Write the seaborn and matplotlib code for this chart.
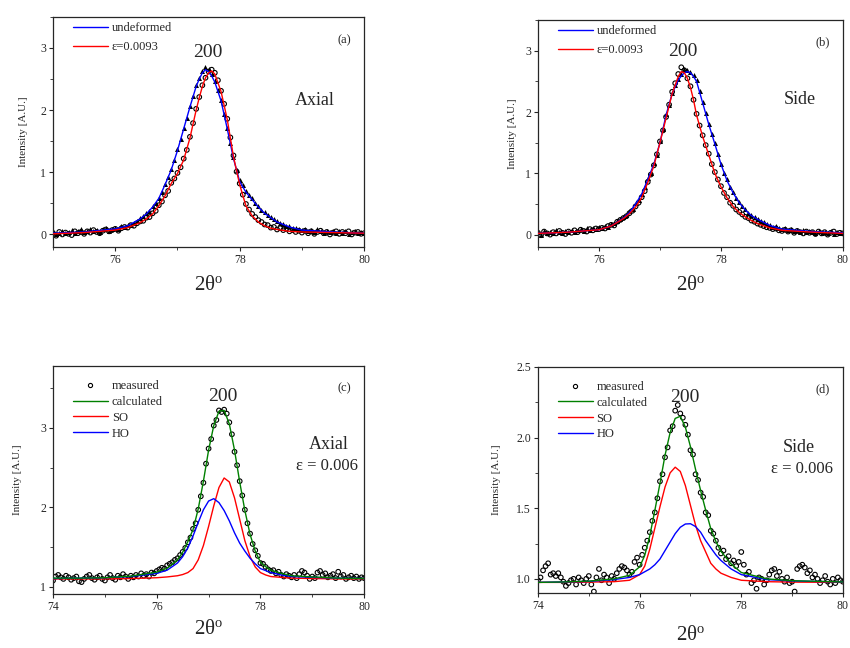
"""Perfis de difracao do pico 200: comparacao axial / lateral (4 paineis)."""
import matplotlib
matplotlib.use("Agg")
import matplotlib.pyplot as plt
from matplotlib.lines import Line2D
from matplotlib.ticker import MultipleLocator, FormatStrFormatter
import seaborn as sns
import numpy as np

# ---------------- dados ----------------
# paineis (a) e (b): passo de 0.05 grau entre 75 e 80
TWO_THETA_TOP = np.round(np.arange(75.0, 80.0001, 0.05), 2)
# paineis (c) e (d): passo de 0.05 grau entre 74 e 80
TWO_THETA_BOT = np.round(np.arange(74.0, 80.0001, 0.05), 2)

a_undeformed = [
    0.05, 0.01, 0.03, 0.06, 0.02, 0.04, 0.07, 0.03, 0.05, 0.08,
    0.04, 0.06, 0.09, 0.05, 0.07, 0.04, 0.08, 0.10, 0.06, 0.09,
    0.11, 0.08, 0.13, 0.12, 0.16, 0.15, 0.19, 0.22, 0.26, 0.29,
    0.34, 0.38, 0.45, 0.50, 0.59, 0.68, 0.81, 0.92, 1.05, 1.19,
    1.37, 1.53, 1.72, 1.88, 2.07, 2.22, 2.40, 2.52, 2.63, 2.70,
    2.66, 2.58, 2.47, 2.33, 2.16, 1.94, 1.72, 1.47, 1.24, 1.03,
    0.87, 0.79, 0.70, 0.63, 0.58, 0.50, 0.45, 0.40, 0.36, 0.31,
    0.28, 0.25, 0.22, 0.18, 0.17, 0.14, 0.13, 0.10, 0.11, 0.08,
    0.07, 0.09, 0.05, 0.07, 0.04, 0.08, 0.05, 0.03, 0.06, 0.04,
    0.05, 0.02, 0.06, 0.03, 0.05, 0.01, 0.04, 0.06, 0.02, 0.04,
    0.03,
]
a_strained = [
    0.02, -0.02, 0.04, 0.00, 0.03, 0.01, -0.01, 0.05, 0.02, 0.04,
    0.01, 0.05, 0.03, 0.07, 0.04, 0.02, 0.06, 0.08, 0.05, 0.07,
    0.09, 0.06, 0.10, 0.12, 0.11, 0.15, 0.14, 0.18, 0.21, 0.22,
    0.27, 0.28, 0.34, 0.38, 0.47, 0.53, 0.63, 0.70, 0.83, 0.90,
    0.99, 1.08, 1.22, 1.36, 1.57, 1.79, 2.02, 2.21, 2.40, 2.52,
    2.62, 2.65, 2.60, 2.48, 2.31, 2.10, 1.86, 1.56, 1.27, 1.01,
    0.82, 0.64, 0.49, 0.40, 0.33, 0.28, 0.23, 0.20, 0.16, 0.15,
    0.11, 0.12, 0.08, 0.10, 0.07, 0.09, 0.05, 0.07, 0.04, 0.06,
    0.03, 0.06, 0.02, 0.05, 0.01, 0.04, 0.06, 0.02, 0.04, 0.00,
    0.03, 0.05, 0.01, 0.04, 0.02, 0.05, 0.00, 0.03, 0.04, 0.01,
    0.02,
]
b_undeformed = [
    0.04, 0.00, 0.06, 0.03, 0.05, 0.02, 0.07, 0.04, 0.03, 0.06,
    0.05, 0.08, 0.04, 0.07, 0.09, 0.06, 0.10, 0.08, 0.11, 0.09,
    0.12, 0.10, 0.14, 0.13, 0.17, 0.19, 0.23, 0.25, 0.29, 0.32,
    0.38, 0.42, 0.51, 0.57, 0.67, 0.77, 0.92, 1.01, 1.17, 1.30,
    1.52, 1.73, 1.97, 2.12, 2.31, 2.44, 2.54, 2.62, 2.70, 2.68,
    2.66, 2.60, 2.52, 2.35, 2.17, 1.98, 1.81, 1.64, 1.49, 1.31,
    1.16, 1.01, 0.90, 0.77, 0.70, 0.60, 0.53, 0.47, 0.42, 0.36,
    0.32, 0.29, 0.26, 0.22, 0.20, 0.17, 0.16, 0.13, 0.14, 0.10,
    0.09, 0.11, 0.07, 0.09, 0.06, 0.08, 0.05, 0.07, 0.04, 0.06,
    0.05, 0.03, 0.06, 0.02, 0.05, 0.03, 0.06, 0.01, 0.04, 0.03,
    0.02,
]
b_strained = [
    0.03, -0.01, 0.05, 0.02, 0.00, 0.04, 0.02, 0.06, 0.03, 0.01,
    0.05, 0.03, 0.07, 0.04, 0.08, 0.06, 0.05, 0.09, 0.07, 0.10,
    0.09, 0.11, 0.10, 0.14, 0.16, 0.15, 0.21, 0.24, 0.27, 0.30,
    0.35, 0.39, 0.46, 0.52, 0.61, 0.71, 0.86, 0.98, 1.13, 1.31,
    1.52, 1.70, 1.92, 2.12, 2.33, 2.47, 2.62, 2.73, 2.68, 2.55,
    2.42, 2.20, 1.97, 1.78, 1.62, 1.46, 1.32, 1.15, 1.02, 0.90,
    0.79, 0.68, 0.61, 0.52, 0.47, 0.41, 0.37, 0.33, 0.29, 0.27,
    0.23, 0.21, 0.18, 0.16, 0.14, 0.12, 0.11, 0.09, 0.10, 0.07,
    0.06, 0.08, 0.05, 0.07, 0.03, 0.06, 0.04, 0.02, 0.05, 0.03,
    0.04, 0.01, 0.05, 0.02, 0.04, 0.00, 0.03, 0.05, 0.01, 0.03,
    0.02,
]
c_measured = [
    1.08, 1.13, 1.15, 1.12, 1.10, 1.14, 1.12, 1.09, 1.11, 1.13,
    1.07, 1.06, 1.10, 1.13, 1.15, 1.11, 1.09, 1.12, 1.14, 1.10,
    1.08, 1.12, 1.15, 1.11, 1.09, 1.14, 1.12, 1.16, 1.13, 1.10,
    1.14, 1.12, 1.15, 1.13, 1.17, 1.14, 1.16, 1.13, 1.18, 1.17,
    1.20, 1.22, 1.24, 1.23, 1.27, 1.29, 1.31, 1.34, 1.36, 1.40,
    1.44, 1.49, 1.56, 1.62, 1.73, 1.80, 1.97, 2.14, 2.31, 2.55,
    2.74, 2.86, 3.03, 3.10, 3.22, 3.20, 3.23, 3.18, 3.07, 2.92,
    2.70, 2.53, 2.33, 2.15, 1.97, 1.80, 1.67, 1.54, 1.46, 1.39,
    1.30, 1.29, 1.25, 1.22, 1.20, 1.21, 1.17, 1.19, 1.15, 1.13,
    1.16, 1.14, 1.12, 1.15, 1.11, 1.16, 1.20, 1.18, 1.14, 1.10,
    1.13, 1.11, 1.18, 1.20, 1.15, 1.17, 1.12, 1.14, 1.16, 1.11,
    1.19, 1.13, 1.15, 1.10, 1.12, 1.14, 1.11, 1.13, 1.10, 1.12,
    1.11,
]
d_measured = [
    0.99, 1.01, 1.06, 1.09, 1.11, 1.03, 1.04, 1.02, 1.04, 1.01,
    0.98, 0.95, 0.97, 0.99, 1.00, 0.96, 1.01, 0.99, 0.97, 1.00,
    1.02, 0.96, 0.91, 1.01, 1.07, 0.99, 1.03, 1.01, 0.97, 1.02,
    1.00, 1.04, 1.07, 1.09, 1.08, 1.06, 1.03, 1.05, 1.12, 1.15,
    1.10, 1.17, 1.22, 1.27, 1.33, 1.41, 1.47, 1.57, 1.69, 1.74,
    1.86, 1.93, 2.05, 2.08, 2.19, 2.23, 2.17, 2.14, 2.09, 2.02,
    1.91, 1.88, 1.74, 1.70, 1.61, 1.58, 1.47, 1.45, 1.34, 1.32,
    1.27, 1.22, 1.18, 1.20, 1.14, 1.16, 1.11, 1.13, 1.09, 1.12,
    1.19, 1.10, 1.03, 1.05, 0.97, 0.99, 0.93, 1.01, 1.00, 0.96,
    0.99, 1.03, 1.06, 1.07, 1.02, 1.05, 1.00, 0.98, 1.01, 0.97,
    0.98, 0.91, 1.07, 1.09, 1.10, 1.08, 1.04, 1.06, 1.01, 1.03,
    1.00, 0.97, 0.99, 1.02, 0.98, 0.96, 1.00, 0.97, 1.01, 0.99,
    0.98,
]

# curvas ajustadas
TOP_FIT_X = [75.0, 75.5, 76.0, 76.2, 76.4, 76.5, 76.6, 76.7, 76.8, 76.9,
             77.0, 77.1, 77.2, 77.3, 77.35, 77.4, 77.45, 77.5, 77.55, 77.6,
             77.7, 77.8, 77.9, 78.0, 78.1, 78.2, 78.3, 78.4, 78.5, 78.6,
             78.8, 79.0, 79.5, 80.0]
a_fit_undeformed = [0.02, 0.04, 0.09, 0.14, 0.25, 0.33, 0.44, 0.58, 0.80, 1.04,
                    1.35, 1.70, 2.05, 2.38, 2.50, 2.60, 2.65, 2.62, 2.55, 2.45,
                    2.15, 1.70, 1.22, 0.85, 0.68, 0.56, 0.44, 0.34, 0.27, 0.20,
                    0.12, 0.07, 0.04, 0.02]
a_fit_strained = [0.01, 0.03, 0.07, 0.11, 0.19, 0.25, 0.33, 0.46, 0.62, 0.82,
                  0.98, 1.20, 1.55, 2.00, 2.20, 2.38, 2.52, 2.60, 2.63, 2.58,
                  2.30, 1.85, 1.25, 0.80, 0.46, 0.30, 0.20, 0.14, 0.10, 0.08,
                  0.05, 0.04, 0.03, 0.02]
b_fit_undeformed = [0.02, 0.04, 0.08, 0.14, 0.27, 0.36, 0.50, 0.66, 0.90, 1.15,
                    1.50, 1.95, 2.30, 2.52, 2.59, 2.64, 2.66, 2.64, 2.58, 2.50,
                    2.15, 1.80, 1.48, 1.15, 0.88, 0.68, 0.52, 0.40, 0.31, 0.25,
                    0.15, 0.09, 0.05, 0.03]
b_fit_strained = [0.02, 0.04, 0.08, 0.14, 0.26, 0.34, 0.45, 0.60, 0.85, 1.12,
                  1.50, 1.90, 2.30, 2.58, 2.66, 2.64, 2.55, 2.40, 2.20, 1.95,
                  1.60, 1.30, 1.00, 0.78, 0.60, 0.46, 0.36, 0.29, 0.23, 0.18,
                  0.11, 0.07, 0.04, 0.02]

C_FIT_X = [74.0, 74.5, 75.0, 75.5, 76.0, 76.2, 76.4, 76.5, 76.6, 76.7,
           76.8, 76.9, 77.0, 77.1, 77.2, 77.3, 77.4, 77.5, 77.6, 77.7,
           77.8, 77.9, 78.0, 78.1, 78.2, 78.4, 78.6, 79.0, 79.5, 80.0]
c_calc = [1.11, 1.11, 1.115, 1.135, 1.185, 1.235, 1.34, 1.435, 1.57, 1.72,
          1.98, 2.33, 2.72, 3.03, 3.21, 3.22, 3.05, 2.72, 2.32, 1.96,
          1.66, 1.45, 1.31, 1.255, 1.21, 1.17, 1.14, 1.125, 1.11, 1.105]
c_so = [1.10, 1.10, 1.10, 1.105, 1.115, 1.125, 1.14, 1.155, 1.18, 1.23,
        1.34, 1.52, 1.76, 2.02, 2.25, 2.37, 2.32, 2.12, 1.85, 1.58,
        1.38, 1.25, 1.18, 1.15, 1.13, 1.12, 1.11, 1.105, 1.10, 1.10]
c_ho = [1.105, 1.11, 1.115, 1.13, 1.17, 1.21, 1.30, 1.38, 1.49, 1.64,
        1.81, 1.97, 2.08, 2.11, 2.06, 1.96, 1.83, 1.68, 1.55, 1.45,
        1.36, 1.29, 1.23, 1.205, 1.18, 1.15, 1.13, 1.12, 1.11, 1.105]

D_FIT_X = [74.0, 74.5, 75.0, 75.5, 75.8, 76.0, 76.1, 76.2, 76.3, 76.4,
           76.5, 76.6, 76.7, 76.8, 76.9, 77.0, 77.1, 77.2, 77.3, 77.4,
           77.5, 77.6, 77.8, 78.0, 78.5, 79.0, 80.0]
d_calc = [0.975, 0.978, 0.984, 1.00, 1.025, 1.085, 1.165, 1.305, 1.485, 1.675,
          1.875, 2.035, 2.135, 2.15, 2.073, 1.935, 1.775, 1.625, 1.485, 1.355,
          1.265, 1.195, 1.105, 1.045, 1.00, 0.987, 0.978]
d_so = [0.975, 0.975, 0.977, 0.98, 0.99, 1.03, 1.09, 1.21, 1.36, 1.51,
        1.65, 1.75, 1.79, 1.76, 1.66, 1.52, 1.38, 1.27, 1.19, 1.11,
        1.07, 1.04, 1.01, 0.99, 0.98, 0.977, 0.975]
d_ho = [0.975, 0.978, 0.982, 0.995, 1.01, 1.03, 1.05, 1.07, 1.10, 1.14,
        1.20, 1.26, 1.32, 1.365, 1.388, 1.39, 1.37, 1.33, 1.27, 1.22,
        1.17, 1.13, 1.07, 1.03, 0.995, 0.985, 0.978]

BLUE, RED, GREEN = "#0000ff", "#ff0000", "#008000"

# ---------------- estilo ----------------
sns.set_style("ticks")
plt.rcParams["font.family"] = ["Liberation Serif", "DejaVu Serif"]
plt.rcParams["mathtext.fontset"] = "custom"
plt.rcParams["mathtext.rm"] = "Liberation Serif"
plt.rcParams["mathtext.it"] = "Liberation Serif:italic"
plt.rcParams["axes.linewidth"] = 0.9
plt.rcParams["xtick.major.size"] = 3
plt.rcParams["ytick.major.size"] = 3
plt.rcParams["xtick.minor.size"] = 2
plt.rcParams["ytick.minor.size"] = 2
plt.rcParams["xtick.labelsize"] = 8.5
plt.rcParams["ytick.labelsize"] = 8.5

fig = plt.figure(figsize=(8.5, 6.48), dpi=100)
# [esquerda, baixo, largura, altura] em fracao da figura
ax_a = fig.add_axes([0.0624, 0.619, 0.366, 0.355])
ax_b = fig.add_axes([0.6329, 0.619, 0.3588, 0.350])
ax_c = fig.add_axes([0.0624, 0.0833, 0.366, 0.352])
ax_d = fig.add_axes([0.6329, 0.0849, 0.3588, 0.349])


def pontos(ax, x, y, marker):
    if marker == "^":
        sns.scatterplot(x=x, y=y, ax=ax, marker="^", s=13, color="black",
                        linewidth=0, zorder=2)
    else:
        sns.scatterplot(x=x, y=y, ax=ax, marker="o", s=11, facecolor="none",
                        edgecolor="black", linewidth=0.8, zorder=2)


def linha(ax, x, y, cor):
    sns.lineplot(x=x, y=y, ax=ax, color=cor, linewidth=1.0, zorder=3,
                 estimator=None, sort=False)


def formata(ax, xlim, ylim, ymaj, ymin, letra, ypad, xpad):
    ax.set_xlim(*xlim)
    ax.set_ylim(*ylim)
    ax.xaxis.set_major_locator(MultipleLocator(2))
    ax.xaxis.set_minor_locator(MultipleLocator(1))
    ax.yaxis.set_major_locator(MultipleLocator(ymaj))
    ax.yaxis.set_minor_locator(MultipleLocator(ymin))
    ax.tick_params(which="both", direction="out", top=False, right=False,
                   pad=2)
    ax.set_ylabel("Intensity [A.U.]", fontsize=8, labelpad=ypad)
    ax.set_xlabel(r"2θ$^{\rm o}$", fontsize=15, labelpad=xpad)
    ax.text(0.935, 0.9, letra, transform=ax.transAxes, fontsize=9,
            ha="center", va="center")
    for s in ax.spines.values():
        s.set_visible(True)


# (a) axial
pontos(ax_a, TWO_THETA_TOP, a_undeformed, "^")
pontos(ax_a, TWO_THETA_TOP, a_strained, "o")
linha(ax_a, TOP_FIT_X, a_fit_undeformed, BLUE)
linha(ax_a, TOP_FIT_X, a_fit_strained, RED)
formata(ax_a, (75, 80), (-0.2, 3.5), 1, 0.5, "(a)", 9, 7)
ax_a.text(0.497, 0.845, "200", transform=ax_a.transAxes, fontsize=14,
          ha="center", va="center")
ax_a.text(0.84, 0.635, "Axial", transform=ax_a.transAxes, fontsize=13,
          ha="center", va="center")

# (b) lateral
pontos(ax_b, TWO_THETA_TOP, b_undeformed, "^")
pontos(ax_b, TWO_THETA_TOP, b_strained, "o")
linha(ax_b, TOP_FIT_X, b_fit_undeformed, BLUE)
linha(ax_b, TOP_FIT_X, b_fit_strained, RED)
formata(ax_b, (75, 80), (-0.2, 3.5), 1, 0.5, "(b)", 6, 7)
ax_b.text(0.475, 0.86, "200", transform=ax_b.transAxes, fontsize=14,
          ha="center", va="center")
ax_b.text(0.86, 0.65, "Side", transform=ax_b.transAxes, fontsize=13,
          ha="center", va="center")

for ax in (ax_a, ax_b):
    handles = [Line2D([], [], color=BLUE, lw=1.0),
               Line2D([], [], color=RED, lw=1.0)]
    ax.legend(handles, ["undeformed", "ε=0.0093"], loc="upper left",
              bbox_to_anchor=(0.04, 1.01), frameon=False, fontsize=9,
              handlelength=2.8, handletextpad=0.3, labelspacing=0.55,
              borderaxespad=0.2)

# (c) axial, componentes
pontos(ax_c, TWO_THETA_BOT, c_measured, "o")
linha(ax_c, C_FIT_X, c_so, RED)
linha(ax_c, C_FIT_X, c_ho, BLUE)
linha(ax_c, C_FIT_X, c_calc, GREEN)
formata(ax_c, (74, 80), (0.91, 3.78), 1, 0.5, "(c)", 13, 5)
ax_c.text(0.545, 0.865, "200", transform=ax_c.transAxes, fontsize=14,
          ha="center", va="center")
ax_c.text(0.885, 0.655, "Axial", transform=ax_c.transAxes, fontsize=13,
          ha="center", va="center")
ax_c.text(0.88, 0.56, "ε = 0.006", transform=ax_c.transAxes, fontsize=12,
          ha="center", va="center")

# (d) lateral, componentes
pontos(ax_d, TWO_THETA_BOT, d_measured, "o")
linha(ax_d, D_FIT_X, d_so, RED)
linha(ax_d, D_FIT_X, d_ho, BLUE)
linha(ax_d, D_FIT_X, d_calc, GREEN)
formata(ax_d, (74, 80), (0.9, 2.5), 0.5, 0.25, "(d)", 11, 10)
ax_d.yaxis.set_major_formatter(FormatStrFormatter("%.1f"))
ax_d.text(0.48, 0.865, "200", transform=ax_d.transAxes, fontsize=14,
          ha="center", va="center")
ax_d.text(0.855, 0.645, "Side", transform=ax_d.transAxes, fontsize=13,
          ha="center", va="center")
ax_d.text(0.865, 0.55, "ε = 0.006", transform=ax_d.transAxes, fontsize=12,
          ha="center", va="center")

for ax in (ax_c, ax_d):
    handles = [Line2D([], [], ls="none", marker="o", ms=3, mfc="none",
                      mec="black", mew=0.8),
               Line2D([], [], color=GREEN, lw=1.0),
               Line2D([], [], color=RED, lw=1.0),
               Line2D([], [], color=BLUE, lw=1.0)]
    ax.legend(handles, ["measured", "calculated", "SO", "HO"],
              loc="upper left", bbox_to_anchor=(0.04, 0.97), frameon=False,
              fontsize=9, handlelength=2.8, handletextpad=0.3,
              labelspacing=0.3, borderaxespad=0.2)

fig.savefig("out.png", dpi=100)
plt.close(fig)
